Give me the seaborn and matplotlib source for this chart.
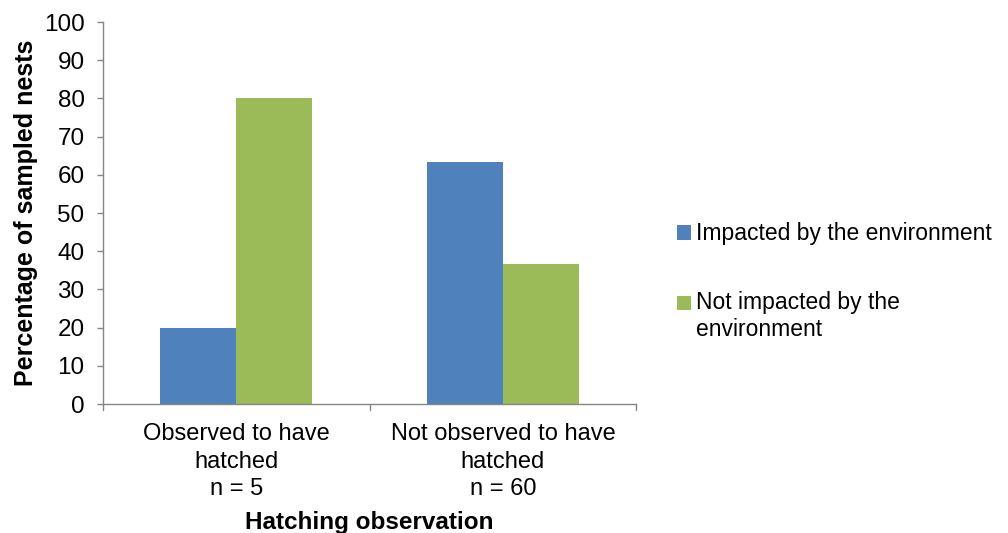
import matplotlib
matplotlib.use("Agg")
import matplotlib.pyplot as plt
import seaborn as sns
import pandas as pd

# Hatching groups, sample sizes and percentages per environment category
groups = ["Observed to have\nhatched\nn = 5", "Not observed to have\nhatched\nn = 60"]
impacted = [20.0, 63.3]
not_impacted = [80.0, 36.7]
series = ["Impacted by the environment", "Not impacted by the\nenvironment"]
colors = ["#4F81BD", "#9BBB59"]
y_ticks = list(range(0, 101, 10))

df = pd.DataFrame({
    "group": groups * 2,
    "value": impacted + not_impacted,
    "series": [series[0]] * 2 + [series[1]] * 2,
})

sns.set_style("white")
plt.rcParams["font.family"] = ["Liberation Sans", "DejaVu Sans"]
plt.rcParams["text.color"] = "black"
plt.rcParams["xtick.color"] = "black"
plt.rcParams["ytick.color"] = "black"
plt.rcParams["axes.labelcolor"] = "black"

fig = plt.figure(figsize=(10.08, 5.33), dpi=100)
ax = fig.add_axes([0.1022, 0.242, 0.529, 0.7167])

sns.barplot(data=df, x="group", y="value", hue="series", order=groups,
            hue_order=series, palette=colors, width=0.57, saturation=1,
            linewidth=0, ax=ax, legend=True)

axis_gray = "#868686"
ax.set_ylim(0, 100)
ax.set_xlim(-0.5, 1.5)
ax.set_yticks(y_ticks)
ax.set_yticklabels([str(t) for t in y_ticks], fontsize=17.5)
ax.set_xticks([0, 1])
ax.set_xticklabels(groups, fontsize=17, linespacing=1.32)
ax.tick_params(axis="x", length=0, pad=14)
ax.tick_params(axis="y", length=4.3, width=1, color=axis_gray, labelcolor="black",
               pad=9, left=True)
for x in [-0.5, 0.5, 1.5]:
    ax.plot([x, x], [0, -1.6], color=axis_gray, lw=1, clip_on=False)

for s in ["top", "right"]:
    ax.spines[s].set_visible(False)
for s in ["left", "bottom"]:
    ax.spines[s].set_color(axis_gray)
    ax.spines[s].set_linewidth(1)

ax.set_ylabel("Percentage of sampled nests", fontsize=18, fontweight="bold", labelpad=4)
ax.set_xlabel("Hatching observation", fontsize=17.5, fontweight="bold", labelpad=8)

handles, labels = ax.get_legend_handles_labels()
leg = ax.legend(handles, labels, loc="upper left", bbox_to_anchor=(0.663, 0.6),
                bbox_transform=fig.transFigure, frameon=False, fontsize=16.5,
                handlelength=0.6, handleheight=0.6, handletextpad=0.2,
                labelspacing=2.0, borderaxespad=0, labelcolor="black")

# Put the swatch of the two-line entry beside its first line
swatch = leg.legend_handles[1]
swatch.set_y(swatch.get_y() + 10)

fig.savefig("out.png", dpi=100)
